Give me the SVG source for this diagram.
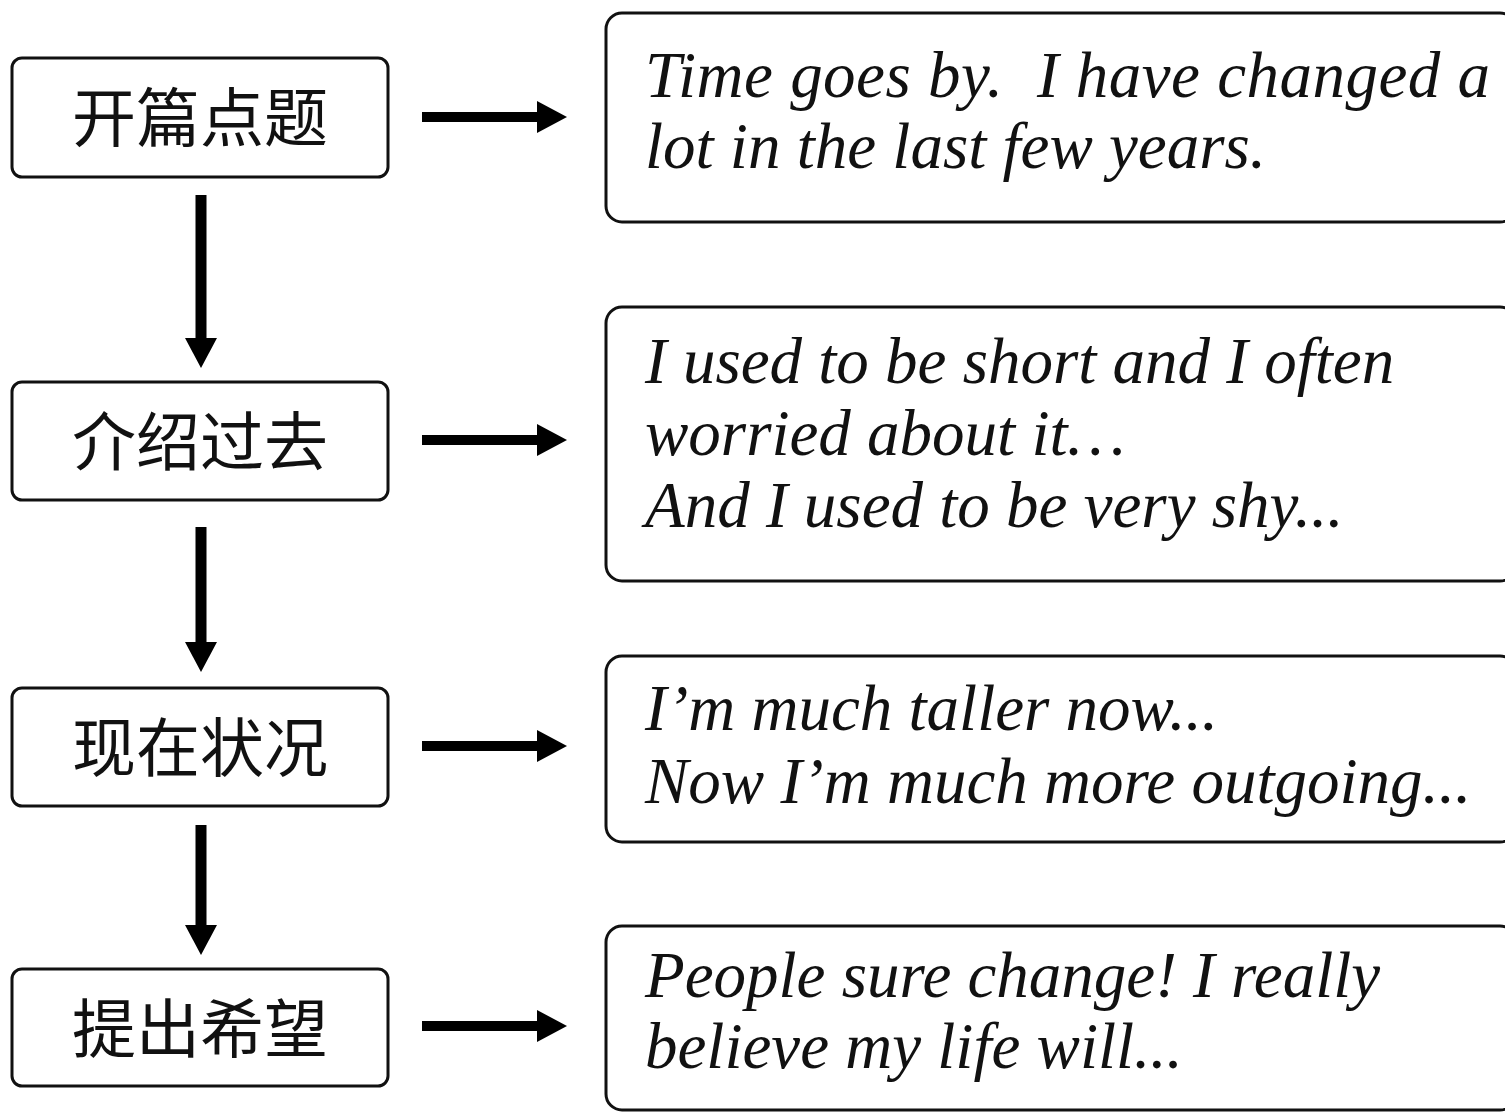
<svg xmlns="http://www.w3.org/2000/svg" width="1505" height="1112" viewBox="0 0 1505 1112">
<defs>
<style>
.box{fill:#fff;stroke:#111;stroke-width:3}
.cn{font-family:"Noto Sans CJK SC",sans-serif;font-size:64px;fill:#111;text-anchor:middle}
.en{font-family:"Liberation Serif",serif;font-style:italic;font-size:65px;fill:#111;white-space:pre}
.ln{stroke:#000;fill:none}
</style>
<marker id="ah" markerUnits="userSpaceOnUse" markerWidth="32" markerHeight="32" refX="0" refY="16" orient="auto" viewBox="0 0 32 32">
<path d="M0,0 L30,16 L0,32 Z" fill="#000"/>
</marker>
</defs>
<rect width="1505" height="1112" fill="#fff"/>
<g id="connectors">
<line class="ln" x1="422" y1="117" x2="537" y2="117" stroke-width="10" marker-end="url(#ah)"/>
<line class="ln" x1="422" y1="440" x2="537" y2="440" stroke-width="10" marker-end="url(#ah)"/>
<line class="ln" x1="422" y1="746" x2="537" y2="746" stroke-width="10" marker-end="url(#ah)"/>
<line class="ln" x1="422" y1="1026" x2="537" y2="1026" stroke-width="10" marker-end="url(#ah)"/>
<line class="ln" x1="201" y1="195" x2="201" y2="338" stroke-width="11" marker-end="url(#ah)"/>
<line class="ln" x1="201" y1="527" x2="201" y2="642" stroke-width="11" marker-end="url(#ah)"/>
<line class="ln" x1="201" y1="825" x2="201" y2="925" stroke-width="11" marker-end="url(#ah)"/>
</g>
<g id="n1"><rect class="box" x="12" y="58" width="376" height="119" rx="10"/><text class="cn" x="200" y="141">开篇点题</text></g>
<g id="n2"><rect class="box" x="12" y="382" width="376" height="118" rx="10"/><text class="cn" x="200" y="465">介绍过去</text></g>
<g id="n3"><rect class="box" x="12" y="688" width="376" height="118" rx="10"/><text class="cn" x="200" y="771">现在状况</text></g>
<g id="n4"><rect class="box" x="12" y="969" width="376" height="117" rx="10"/><text class="cn" x="200" y="1052">提出希望</text></g>
<g id="r1"><rect class="box" x="606" y="13" width="910" height="209" rx="16"/>
<text class="en" x="645" y="97" textLength="845" xml:space="preserve">Time goes by.  I have changed a</text>
<text class="en" x="645" y="168">lot in the last few years.</text></g>
<g id="r2"><rect class="box" x="606" y="307" width="910" height="274" rx="16"/>
<text class="en" x="645" y="383">I used to be short and I often</text>
<text class="en" x="645" y="455">worried about it…</text>
<text class="en" x="645" y="527">And I used to be very shy...</text></g>
<g id="r3"><rect class="box" x="606" y="656" width="910" height="186" rx="16"/>
<text class="en" x="645" y="730">I’m much taller now...</text>
<text class="en" x="645" y="803">Now I’m much more outgoing...</text></g>
<g id="r4"><rect class="box" x="606" y="926" width="910" height="184" rx="16"/>
<text class="en" x="645" y="997">People sure change! I really</text>
<text class="en" x="645" y="1068">believe my life will...</text></g>
</svg>
